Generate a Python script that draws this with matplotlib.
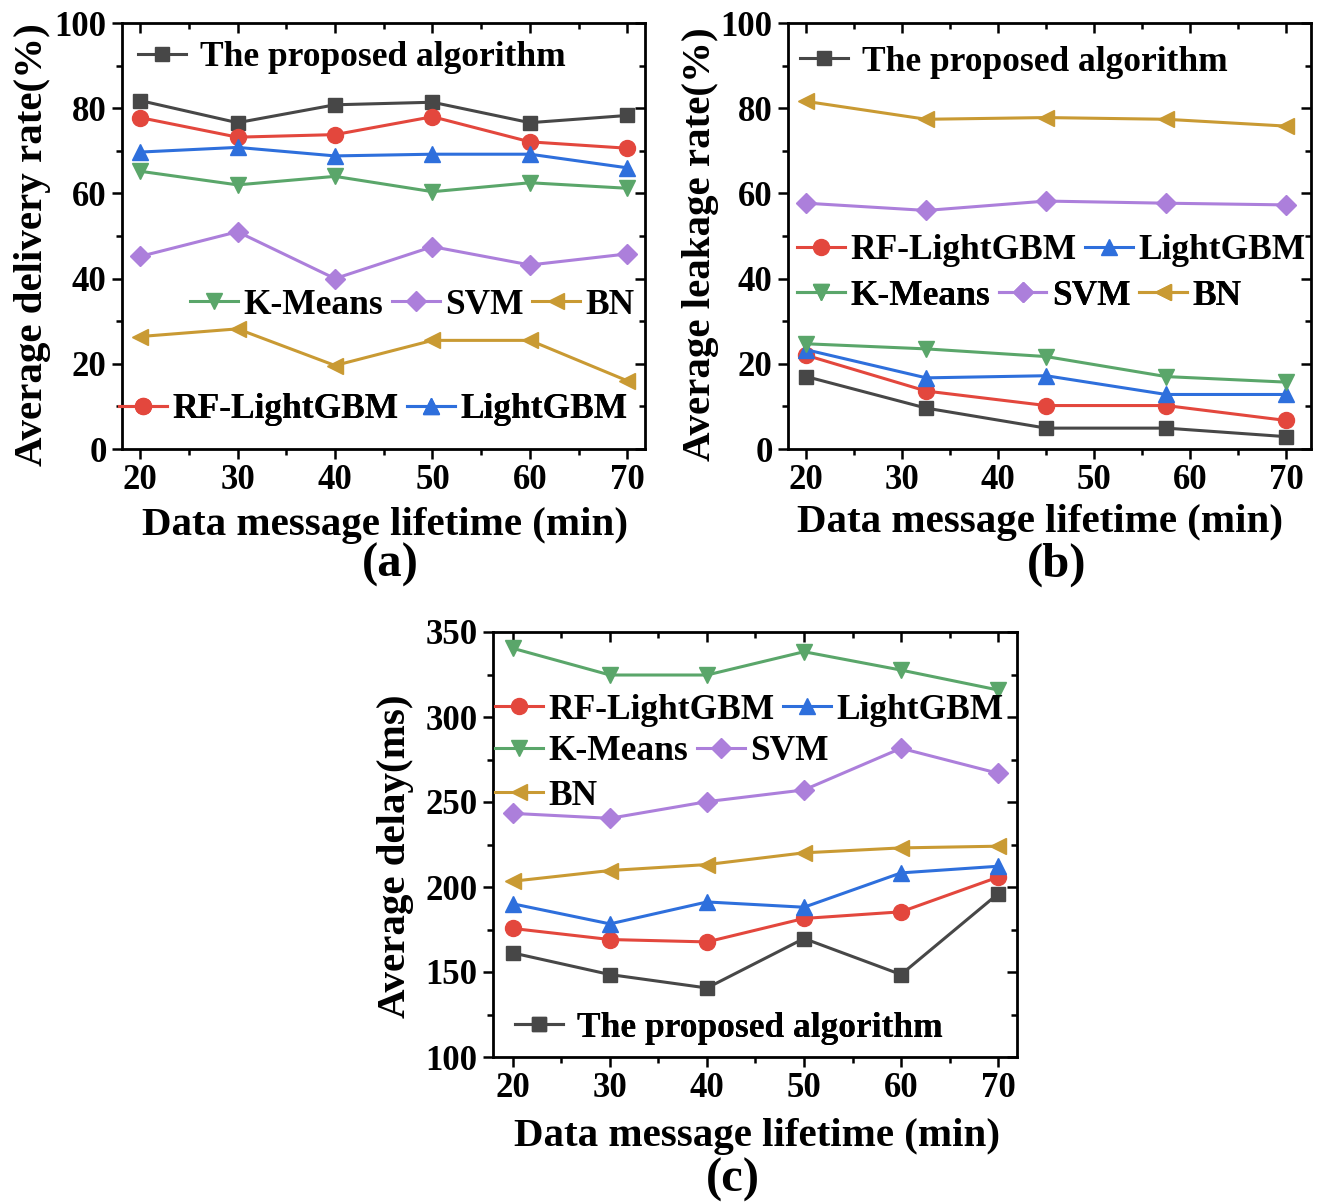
import numpy as np
import matplotlib
matplotlib.use("Agg")
import matplotlib.pyplot as plt
from matplotlib.ticker import MultipleLocator

plt.rcParams['font.family'] = ['Liberation Serif', 'DejaVu Serif']
plt.rcParams['font.weight'] = 'bold'
plt.rcParams['axes.labelweight'] = 'bold'

# data
x_a = [20, 30, 40, 50, 60, 70]
x_b = [20, 32.5, 45, 57.5, 70]
x_c = [20, 30, 40, 50, 60, 70]

names = ["The proposed algorithm", "RF-LightGBM", "LightGBM", "K-Means", "SVM", "BN"]

deliv_proposed = [81.8, 76.6, 80.8, 81.4, 76.6, 78.3]
deliv_rf = [77.8, 73.2, 73.8, 78.0, 72.1, 70.6]
deliv_lgbm = [69.7, 70.8, 68.8, 69.2, 69.2, 66.0]
deliv_kmeans = [65.2, 62.0, 64.0, 60.4, 62.5, 61.2]
deliv_svm = [45.2, 51.0, 40.0, 47.5, 43.2, 45.8]
deliv_bn = [26.4, 28.2, 19.6, 25.5, 25.5, 16.0]

leak_proposed = [17.0, 9.6, 4.9, 4.9, 2.9]
leak_rf = [22.0, 13.6, 10.2, 10.2, 6.7]
leak_lgbm = [23.3, 16.7, 17.2, 12.8, 12.8]
leak_kmeans = [24.7, 23.5, 21.7, 17.0, 15.7]
leak_svm = [57.7, 56.0, 58.2, 57.7, 57.3]
leak_bn = [81.6, 77.4, 77.8, 77.4, 75.8]

delay_proposed = [161.2, 148.5, 140.6, 169.7, 148.5, 196.0]
delay_rf = [175.6, 169.1, 167.7, 181.5, 185.4, 205.8]
delay_lgbm = [190.1, 178.3, 191.2, 188.1, 208.3, 212.2]
delay_kmeans = [340.4, 324.7, 324.7, 338.4, 327.6, 315.9]
delay_svm = [243.3, 240.4, 250.2, 257.1, 281.6, 266.9]
delay_bn = [203.4, 209.7, 213.2, 220.1, 223.0, 224.0]

colors = ['#474747', '#e3473d', '#2e6fdc', '#5aa66a', '#ac7fdb', '#c99a33']
markers = ['s', 'o', '^', 'v', 'D', '<']
msizes = [10.5, 11.5, 11.5, 11.5, 10.5, 11.5]

LAB = 29.5   # axis label size
LEG = 25.5   # legend size
TCK = 25     # tick label size

W, H = 1320, 1203
fig = plt.figure(figsize=(W / 100, H / 100), dpi=100)


def px_axes(l, t, r, b):
    return fig.add_axes([l / W, 1 - b / H, (r - l) / W, (b - t) / H])


def style(ax, xlim, ylim, ymaj, ymin):
    ax.set_xlim(*xlim)
    ax.set_ylim(*ylim)
    ax.xaxis.set_major_locator(MultipleLocator(10))
    ax.xaxis.set_minor_locator(MultipleLocator(5))
    ax.yaxis.set_major_locator(MultipleLocator(ymaj))
    ax.yaxis.set_minor_locator(MultipleLocator(ymin))
    for s in ax.spines.values():
        s.set_linewidth(2)
    ax.tick_params(which='both', width=1.8, labelsize=TCK, pad=4)
    ax.tick_params(which='major', length=7)
    ax.tick_params(which='minor', length=4)
    ax.tick_params(which='both', top=True, right=True)
    # ticks out on bottom/left, in on top/right
    for t in ax.xaxis.get_major_ticks() + ax.xaxis.get_minor_ticks():
        t.tick2line.set_marker(matplotlib.lines.TICKDOWN)
    for t in ax.yaxis.get_major_ticks() + ax.yaxis.get_minor_ticks():
        t.tick2line.set_marker(matplotlib.lines.TICKLEFT)
    for lab in ax.get_xticklabels() + ax.get_yticklabels():
        lab.set_fontweight('bold')


def draw(ax, xs, series):
    lines = []
    for i, ys in enumerate(series):
        ln, = ax.plot(xs, ys, color=colors[i], marker=markers[i], ms=msizes[i],
                      lw=2.2, label=names[i], clip_on=False, zorder=3)
        lines.append(ln)
    return lines


def leg(ax, handles, x, y, ncol, pad=0.15):
    lg = ax.legend(handles=handles, loc='center left', bbox_to_anchor=(x, y),
                   ncol=ncol, frameon=False, handlelength=1.35,
                   handletextpad=pad, columnspacing=0.25, borderpad=0,
                   borderaxespad=0, prop={'weight': 'bold', 'size': LEG})
    ax.add_artist(lg)
    return lg


# (a)
ax1 = px_axes(122, 23, 645, 449)
l = draw(ax1, x_a, [deliv_proposed, deliv_rf, deliv_lgbm, deliv_kmeans, deliv_svm, deliv_bn])
style(ax1, (18.15, 71.8), (0, 100), 20, 10)
leg(ax1, [l[0]], 0.03, 0.918, 1, pad=0.4)
leg(ax1, [l[3], l[4], l[5]], 0.13, 0.338, 3)
leg(ax1, [l[1], l[2]], -0.005, 0.092, 2)
ax1.set_ylabel("Average delivery rate(%)", fontsize=LAB)
ax1.yaxis.set_label_coords(-0.135, 0.48)
ax1.set_xlabel("Data message lifetime (min)", fontsize=LAB)
ax1.xaxis.set_label_coords(0.503, -0.136)

# (b)
ax2 = px_axes(788, 23, 1311, 449)
l = draw(ax2, x_b, [leak_proposed, leak_rf, leak_lgbm, leak_kmeans, leak_svm, leak_bn])
style(ax2, (18.1, 72.6), (0, 100), 20, 10)
leg(ax2, [l[0]], 0.023, 0.908, 1, pad=0.4)
leg(ax2, [l[1], l[2]], 0.017, 0.465, 2)
leg(ax2, [l[3], l[4], l[5]], 0.017, 0.359, 3)
ax2.set_ylabel("Average leakage rate(%)", fontsize=LAB)
ax2.yaxis.set_label_coords(-0.132, 0.48)
ax2.set_xlabel("Data message lifetime (min)", fontsize=LAB)
ax2.xaxis.set_label_coords(0.482, -0.128)

# (c)
ax3 = px_axes(493, 632, 1017, 1057)
l = draw(ax3, x_c, [delay_proposed, delay_rf, delay_lgbm, delay_kmeans, delay_svm, delay_bn])
style(ax3, (17.95, 71.95), (100, 350), 50, 25)
leg(ax3, [l[1], l[2]], 0.004, 0.816, 2)
leg(ax3, [l[3], l[4]], 0.004, 0.718, 2)
leg(ax3, [l[5]], 0.004, 0.614, 1)
leg(ax3, [l[0]], 0.042, 0.068, 1, pad=0.4)
ax3.set_ylabel("Average delay(ms)", fontsize=LAB)
ax3.yaxis.set_label_coords(-0.15, 0.473)
ax3.set_xlabel("Data message lifetime (min)", fontsize=LAB)
ax3.xaxis.set_label_coords(0.504, -0.144)

fig.text(390 / W, 1 - 565 / H, "(a)", fontsize=35, fontweight='bold', ha='center', va='center')
fig.text(1057 / W, 1 - 565 / H, "(b)", fontsize=35, fontweight='bold', ha='center', va='center')
fig.text(733 / W, 1 - 1180 / H, "(c)", fontsize=35, fontweight='bold', ha='center', va='center')

fig.savefig("out.png", dpi=100)
